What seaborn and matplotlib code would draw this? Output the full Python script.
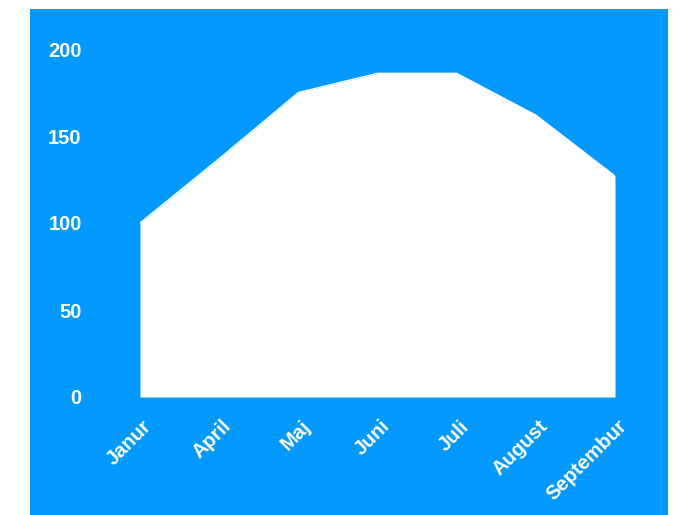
import numpy as np
import pandas as pd
import matplotlib
matplotlib.use("Agg")
import matplotlib.pyplot as plt
import matplotlib.transforms as mtransforms
from matplotlib.patches import Rectangle
import seaborn as sns

# data
months = ["Janur", "April", "Maj", "Juni", "Juli", "August", "Septembur"]
values = [100, 137, 175, 186, 186, 162, 127]
yticks = [0, 50, 100, 150, 200]

blue = "#0099ff"

sns.set_style("white")
plt.rcParams['font.family'] = ['Liberation Sans', 'DejaVu Sans']

fig = plt.figure(figsize=(6.81, 5.15), dpi=100)
fig.patch.set_facecolor("white")
# blue panel behind the chart
fig.patches.append(Rectangle((30 / 681, 0), (668 - 30) / 681, (515 - 9) / 515,
                             transform=fig.transFigure, facecolor=blue,
                             edgecolor="none", zorder=-1))

ax = fig.add_axes([140 / 681, (515 - 397) / 515, (615 - 140) / 681, (397 - 49) / 515])
ax.patch.set_alpha(0)

df = pd.DataFrame({"pos": np.arange(len(months)), "value": values})
sns.lineplot(data=df, x="pos", y="value", color="white", linewidth=1, ax=ax)
ax.fill_between(df["pos"], 0, df["value"], color="white", linewidth=0)

ax.set_xlim(0, len(months) - 1)
ax.set_ylim(0, 200)
ax.set_xlabel("")
ax.set_ylabel("")
for s in ax.spines.values():
    s.set_visible(False)

ax.set_yticks(yticks)
ax.set_yticklabels([str(t) for t in yticks], color="white", fontsize=14.5, fontweight="bold")
ax.tick_params(axis="y", length=0, pad=42)

ax.set_xticks(df["pos"])
ax.set_xticklabels(months, color="white", fontsize=14.5, fontweight="bold",
                   rotation=45, ha="right", va="center", rotation_mode="anchor")
ax.tick_params(axis="x", length=0, pad=19)
offset = mtransforms.ScaledTranslation(9 / 100, 0, fig.dpi_scale_trans)
for lab in ax.get_xticklabels():
    lab.set_transform(lab.get_transform() + offset)

fig.savefig("out.png", dpi=100, facecolor=fig.get_facecolor())
